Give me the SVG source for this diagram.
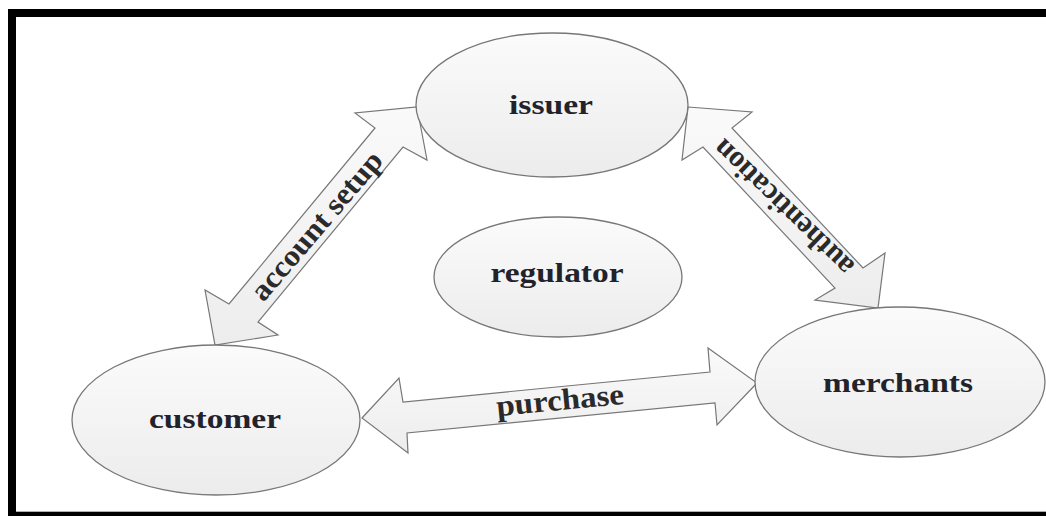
<svg xmlns="http://www.w3.org/2000/svg" width="1046" height="516" viewBox="0 0 1046 516">
  <defs>
    <linearGradient id="nodeFill" x1="0" y1="0" x2="0" y2="1">
      <stop offset="0" stop-color="#fbfbfb"/>
      <stop offset="1" stop-color="#ececec"/>
    </linearGradient>
    <linearGradient id="arrowFill" x1="0" y1="0" x2="0" y2="1">
      <stop offset="0" stop-color="#fafafa"/>
      <stop offset="1" stop-color="#ededed"/>
    </linearGradient>
  </defs>
  <style>
    .node { fill: url(#nodeFill); stroke: #777777; stroke-width: 1.3; }
    .arrow { fill: url(#arrowFill); stroke: #777777; stroke-width: 1.2; stroke-linejoin: miter; }
    .nlabel { font-family: "Liberation Serif", "Times New Roman", serif; font-weight: bold; font-size: 28px; fill: #22222c; text-anchor: middle; }
    .alabel { font-family: "Liberation Serif", "Times New Roman", serif; font-weight: bold; font-size: 30px; fill: #2a2a2a; text-anchor: middle; }
  </style>
  <rect x="0" y="0" width="1046" height="516" fill="#ffffff"/>
  <g id="frame">
    <rect x="8" y="9" width="1038" height="8" fill="#000000"/>
    <rect x="8" y="9" width="8" height="507" fill="#000000"/>
    <rect x="8" y="512" width="1038" height="4" fill="#000000"/>
    <line x1="16" y1="511.5" x2="1046" y2="511.5" stroke="#b0b0b0" stroke-width="1"/>
  </g>
  <g id="connectors">
    <g id="edge-account-setup">
      <polygon class="arrow" points="417,107 427,160 403,147 258,322 278,335 215,345 205,290 229,304 375,128 355,113"/>
      <text class="alabel" transform="translate(324,232) rotate(-49.5)" textLength="186" lengthAdjust="spacingAndGlyphs">account setup</text>
    </g>
    <g id="edge-authentication">
      <polygon class="arrow" points="688,107 752,112 732,128 863,268 885,253 878,308 815,300 835,288 703,147 682,160"/>
      <text class="alabel" transform="translate(790,201) rotate(-136)" textLength="183" lengthAdjust="spacingAndGlyphs">authentication</text>
    </g>
    <g id="edge-purchase">
      <polygon class="arrow" points="362,418 399,378 403,402 710,372 708,348 757,383 717,425 715,403 407,433 408,453"/>
      <text class="alabel" transform="translate(561,410) rotate(-5.5)" textLength="128" lengthAdjust="spacingAndGlyphs">purchase</text>
    </g>
  </g>
  <g id="node-issuer">
    <ellipse class="node" cx="552" cy="105" rx="136" ry="72"/>
    <text class="nlabel" x="551" y="114" textLength="84" lengthAdjust="spacingAndGlyphs">issuer</text>
  </g>
  <g id="node-regulator">
    <ellipse class="node" cx="558" cy="277" rx="124" ry="60"/>
    <text class="nlabel" x="557" y="282" textLength="133" lengthAdjust="spacingAndGlyphs">regulator</text>
  </g>
  <g id="node-customer">
    <ellipse class="node" cx="216" cy="420" rx="144" ry="75"/>
    <text class="nlabel" x="215" y="428" textLength="132" lengthAdjust="spacingAndGlyphs">customer</text>
  </g>
  <g id="node-merchants">
    <ellipse class="node" cx="900" cy="382" rx="145" ry="75"/>
    <text class="nlabel" x="898" y="392" textLength="150" lengthAdjust="spacingAndGlyphs">merchants</text>
  </g>
</svg>
